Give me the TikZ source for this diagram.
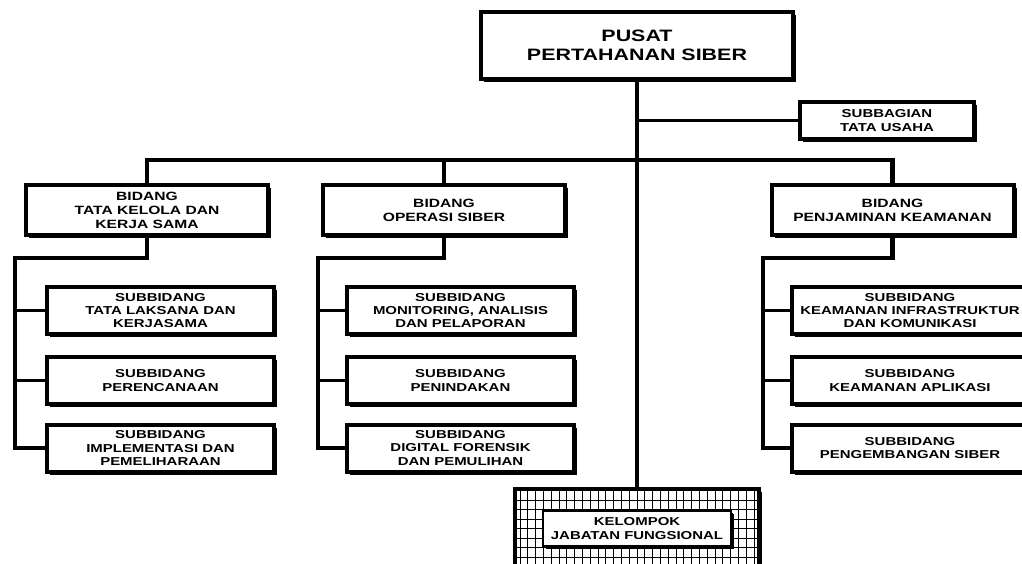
\documentclass[tikz,border=0pt]{standalone}
\usepackage{fontspec}
\newfontfamily\orgfont[FakeStretch=1.3]{Liberation Sans}
\usetikzlibrary{shadows}
\tikzset{
  unit/.style={draw, line width=4pt, fill=white, align=center, inner sep=0pt,
    font=\orgfont\bfseries\fontsize{11.5}{13.3}\selectfont,
    drop shadow={shadow xshift=3pt, shadow yshift=-3pt, fill=black, opacity=1}},
  bidang/.style={unit, minimum width=242pt, minimum height=50pt,
    font=\orgfont\bfseries\fontsize{12}{14}\selectfont},
  subbid/.style={unit, minimum height=47pt},
  trunk/.style={line width=4.5pt},
  branch/.style={line width=3pt}
}
\begin{document}
\begin{tikzpicture}[x=1pt, y=-1pt]
\useasboundingbox (0,0) rectangle (1022,563);
\clip (0,0) rectangle (1022,563);
% pimpinan
\node[unit, minimum width=312pt, minimum height=67pt,
  font=\orgfont\bfseries\fontsize{16.5}{19}\selectfont] (pusat) at (637,45.5) {PUSAT\\PERTAHANAN SIBER};
\node[unit, minimum width=174pt, minimum height=37pt] (sb) at (887,120.5) {SUBBAGIAN\\TATA USAHA};
% bidang
\node[bidang] (b1) at (147,210) {BIDANG\\TATA KELOLA DAN\\KERJA SAMA};
\node[bidang] (b2) at (444,210) {BIDANG\\OPERASI SIBER};
\node[bidang] (b3) at (892.5,210) {BIDANG\\PENJAMINAN KEAMANAN};
% subbidang
\node[subbid, minimum width=227pt] (s11) at (160.5,310.5) {SUBBIDANG\\TATA LAKSANA DAN\\KERJASAMA};
\node[subbid, minimum width=227pt] (s12) at (160.5,380.5) {SUBBIDANG\\PERENCANAAN};
\node[subbid, minimum width=227pt] (s13) at (160.5,448) {SUBBIDANG\\IMPLEMENTASI DAN\\PEMELIHARAAN};
\node[subbid, minimum width=227pt] (s21) at (460.5,310.5) {SUBBIDANG\\MONITORING, ANALISIS\\DAN PELAPORAN};
\node[subbid, minimum width=227pt] (s22) at (460.5,380.5) {SUBBIDANG\\PENINDAKAN};
\node[subbid, minimum width=227pt] (s23) at (460.5,448) {SUBBIDANG\\DIGITAL FORENSIK\\DAN PEMULIHAN};
\node[subbid, minimum width=236pt] (s31) at (910,310.5) {SUBBIDANG\\KEAMANAN INFRASTRUKTUR\\DAN KOMUNIKASI};
\node[subbid, minimum width=236pt] (s32) at (910,380.5) {SUBBIDANG\\KEAMANAN APLIKASI};
\node[subbid, minimum width=236pt] (s33) at (910,448) {SUBBIDANG\\PENGEMBANGAN SIBER};
% kelompok jabatan fungsional
\node[unit, minimum width=244pt, minimum height=79pt,
  path picture={\draw[line width=0.7pt] (path picture bounding box.south west)
    grid[xstep=7.8pt, ystep=9.5pt] (path picture bounding box.north east);}] (kel) at (637,528.5) {};
\node[unit, line width=1.8pt, minimum width=188pt, minimum height=35pt,
  drop shadow={shadow xshift=1.5pt, shadow yshift=-1.5pt, fill=black, opacity=1}] (jf) at (637,528.5) {KELOMPOK\\JABATAN FUNGSIONAL};
% garis
\coordinate (bus) at (637,160);
\draw[trunk] (pusat.south) -- (kel.north);
\draw[branch] (pusat.south |- sb.west) -- (sb.west);
\draw[trunk] (b1.north) |- (bus) -| (b3.north);
\draw[trunk] (b2.north) -- (b2.north |- bus);
\coordinate (k1) at (15,258);
\coordinate (k2) at (318,258);
\coordinate (k3) at (763,258);
\draw[trunk] (b1.south) |- (k1) |- (s13.west);
\draw[trunk] (b2.south) |- (k2) |- (s23.west);
\draw[trunk] (b3.south) |- (k3) |- (s33.west);
\draw[branch] (k1 |- s11.west) -- (s11.west);
\draw[branch] (k1 |- s12.west) -- (s12.west);
\draw[branch] (k2 |- s21.west) -- (s21.west);
\draw[branch] (k2 |- s22.west) -- (s22.west);
\draw[branch] (k3 |- s31.west) -- (s31.west);
\draw[branch] (k3 |- s32.west) -- (s32.west);
\end{tikzpicture}
\end{document}
